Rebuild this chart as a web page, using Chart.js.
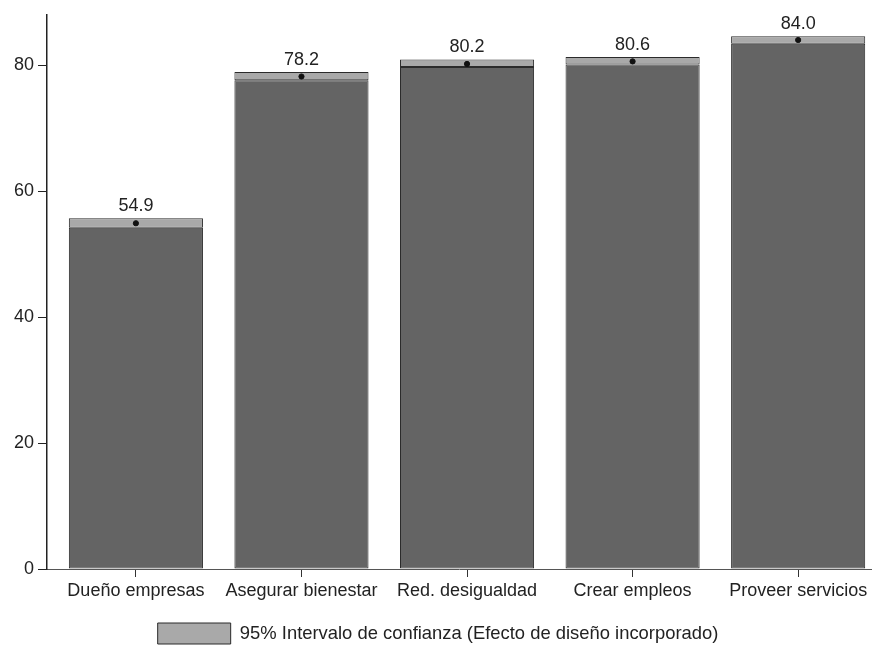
<!DOCTYPE html>
<html lang="es">
<head>
<meta charset="UTF-8">
<title>Intervalo de confianza</title>
<script src="https://cdn.jsdelivr.net/npm/chart.js@4.4.0/dist/chart.umd.min.js"></script>
<style>
  html, body { margin: 0; padding: 0; background: #fff; }
  #wrap { width: 876px; height: 648px; }
</style>
</head>
<body>
<div id="wrap"><canvas id="chart" width="876" height="648"></canvas></div>
<script>
// categories and values
const categories = ['Dueño empresas', 'Asegurar bienestar', 'Red. desigualdad', 'Crear empleos', 'Proveer servicios'];
const means = [54.9, 78.2, 80.2, 80.6, 84.0];
const lower = [54.2, 77.6, 79.7, 80.1, 83.4];
const upper = [55.7, 78.9, 80.9, 81.3, 84.6];
const yTicks = [0, 20, 40, 60, 80];
const legendText = '95% Intervalo de confianza (Efecto de diseño incorporado)';

const dark = '#646464';
const light = '#a9a9a9';
const edge = '#2b2b2b';
const font = 'Liberation Sans, Arial, Helvetica, sans-serif';

// value labels above each bar
const valueLabels = {
  id: 'valueLabels',
  afterDatasetsDraw(chart) {
    const ctx = chart.ctx;
    const xs = chart.scales.x, ys = chart.scales.y;
    ctx.save();
    ctx.font = '18px ' + font;
    ctx.fillStyle = '#222';
    ctx.textAlign = 'center';
    ctx.textBaseline = 'bottom';
    means.forEach((m, i) => {
      ctx.fillText(m.toFixed(1), xs.getPixelForValue(i), ys.getPixelForValue(upper[i]) - 3);
    });
    ctx.restore();
  }
};

new Chart(document.getElementById('chart'), {
  type: 'bar',
  data: {
    datasets: [
      {
        label: 'base',
        data: lower.map((v, i) => ({ x: i, y: [0, v] })),
        backgroundColor: dark,
        borderColor: edge,
        borderWidth: 1,
        borderSkipped: false,
        barPercentage: 0.81,
        categoryPercentage: 1,
        grouped: false,
        order: 2
      },
      {
        label: legendText,
        data: lower.map((v, i) => ({ x: i, y: [v, upper[i]] })),
        backgroundColor: light,
        borderColor: edge,
        borderWidth: 1,
        borderSkipped: false,
        barPercentage: 0.81,
        categoryPercentage: 1,
        grouped: false,
        order: 1
      },
      {
        type: 'scatter',
        label: 'media',
        data: means.map((v, i) => ({ x: i, y: v })),
        backgroundColor: '#111',
        borderColor: '#111',
        pointRadius: 2.6,
        order: 0
      }
    ]
  },
  options: {
    responsive: false,
    animation: false,
    layout: { padding: { top: 13, right: 0, bottom: -6, left: 0 } },
    scales: {
      x: {
        type: 'linear',
        offset: false,
        min: -0.537,
        max: 4.44,
        afterBuildTicks(scale) {
          scale.ticks = categories.map((c, i) => ({ value: i }));
        },
        afterFit(scale) { scale.height = 52; },
        ticks: {
          callback: (v) => categories[v],
          font: { size: 18, family: font },
          color: '#222',
          padding: 3,
          maxRotation: 0,
          autoSkip: false
        },
        grid: { display: true, offset: false, drawOnChartArea: false, drawTicks: true, tickLength: 8, tickColor: '#333' },
        border: { display: true, color: '#555', width: 1 }
      },
      y: {
        min: 0,
        max: 88,
        afterBuildTicks(scale) {
          scale.ticks = yTicks.map(v => ({ value: v }));
        },
        afterFit(scale) { scale.width = 47; },
        ticks: {
          font: { size: 18, family: font },
          color: '#222',
          padding: 4
        },
        grid: { display: true, drawOnChartArea: false, drawTicks: true, tickLength: 9, tickColor: '#222' },
        border: { display: true, color: '#222', width: 1.5 }
      }
    },
    plugins: {
      tooltip: { enabled: false },
      legend: {
        position: 'bottom',
        labels: {
          filter: (item) => item.text === legendText,
          boxWidth: 73,
          boxHeight: 21,
          padding: 2,
          color: '#222',
          font: { size: 18.4, family: font }
        }
      }
    }
  },
  plugins: [valueLabels]
});
</script>
</body>
</html>
